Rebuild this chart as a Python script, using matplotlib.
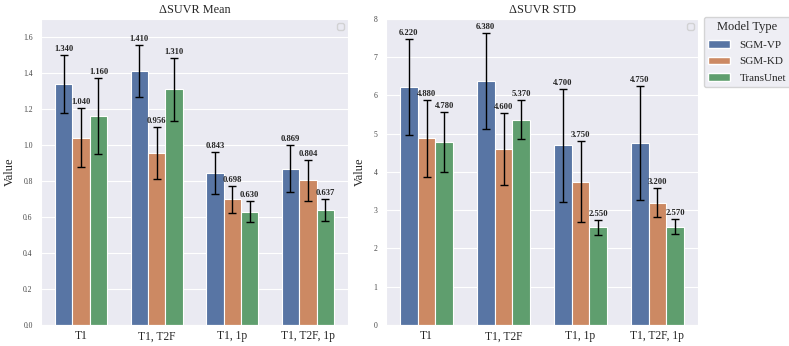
#!/usr/bin/env python3
"""
Grouped bar chart of delta-SUVR mean and STD per input combination.
"""

import matplotlib
matplotlib.use("Agg")
import matplotlib.pyplot as plt
import numpy as np
import seaborn as sns
from matplotlib.patches import Patch

sns.set_style("darkgrid")
plt.rcParams["font.family"] = ["Liberation Serif", "DejaVu Serif"]

inputs = ["T1", "T1, T2F", "T1, 1p", "T1, T2F, 1p"]
models = ["SGM-VP", "SGM-KD", "TransUnet"]
colors = ["#5875A4", "#CC8963", "#5F9E6E"]

mean_vals = {
    "SGM-VP": [1.340, 1.410, 0.843, 0.869],
    "SGM-KD": [1.040, 0.956, 0.698, 0.804],
    "TransUnet": [1.160, 1.310, 0.630, 0.637],
}
mean_err = {
    "SGM-VP": [0.160, 0.145, 0.118, 0.132],
    "SGM-KD": [0.163, 0.145, 0.076, 0.113],
    "TransUnet": [0.210, 0.175, 0.057, 0.060],
}
std_vals = {
    "SGM-VP": [6.220, 6.380, 4.700, 4.750],
    "SGM-KD": [4.880, 4.600, 3.750, 3.200],
    "TransUnet": [4.780, 5.370, 2.550, 2.570],
}
std_err = {
    "SGM-VP": [1.265, 1.250, 1.475, 1.490],
    "SGM-KD": [1.000, 0.950, 1.060, 0.390],
    "TransUnet": [0.790, 0.520, 0.190, 0.200],
}


def draw_panel(ax, vals, errs, title, ylim, yticks, ytick_fmt, label_x):
    x = np.arange(len(inputs))
    width = 0.23
    for i, (model, color) in enumerate(zip(models, colors)):
        pos = x + (i - 1) * width
        v = np.array(vals[model])
        e = np.array(errs[model])
        ax.bar(pos, v, width=width, color=color, edgecolor="white",
               linewidth=0.8, zorder=2)
        ax.errorbar(pos, v, yerr=e, fmt="none", ecolor="black",
                    elinewidth=1.0, capsize=3, capthick=1.0, zorder=3)
        for p, val, err in zip(pos, v, e):
            ax.annotate(f"{val:.3f}", (p, val + err), xytext=(0, 1.5),
                        textcoords="offset points", ha="center", va="bottom",
                        fontsize=6.2, fontweight="bold", zorder=4)
    ax.set_xlim(-0.53, 3.53)
    ax.set_ylim(*ylim)
    ax.set_yticks(yticks, [ytick_fmt.format(t) for t in yticks])
    ax.set_xticks(x, inputs)
    ax.tick_params(axis="y", labelsize=5.5, length=0, pad=6, labelcolor="#444444")
    ax.tick_params(axis="x", labelsize=8.3, length=0, pad=4)
    ax.grid(axis="x", visible=False)
    ax.set_title(title, fontsize=8.8, pad=4)
    ax.set_ylabel("Value", fontsize=9)
    ax.yaxis.set_label_coords(label_x, 0.5)
    leg = ax.legend(handles=[], loc="upper right", fontsize=6)
    leg.get_frame().set_alpha(0.8)


fig = plt.figure(figsize=(7.89, 3.46), dpi=100)
ax1 = fig.add_axes([0.052, 0.061, 0.389, 0.884])
ax2 = fig.add_axes([0.489, 0.061, 0.396, 0.884])

draw_panel(ax1, mean_vals, mean_err, "ΔSUVR Mean", (0, 1.7),
           np.round(np.arange(0, 1.61, 0.2), 1), "{:.1f}", -0.083)
draw_panel(ax2, std_vals, std_err, "ΔSUVR STD", (0, 8),
           np.arange(0, 9, 1), "{:d}", -0.064)

handles = [Patch(facecolor=c, edgecolor="white", label=m) for m, c in zip(models, colors)]
fig.legend(handles=handles, title="Model Type", loc="upper left",
           bbox_to_anchor=(0.892, 0.952), fontsize=8, title_fontsize=9,
           frameon=True, handlelength=2.0, handletextpad=0.8,
           labelspacing=0.62, borderaxespad=0.0)

fig.savefig("out.png", dpi=100)
